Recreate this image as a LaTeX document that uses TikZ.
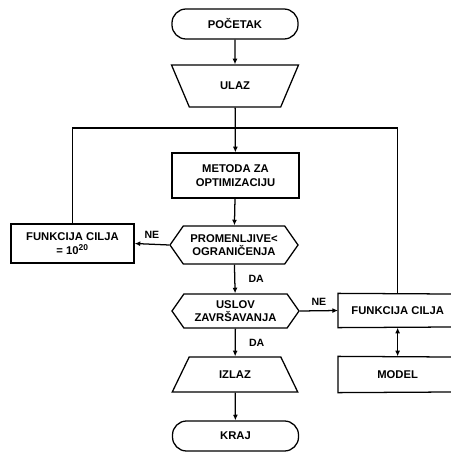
\documentclass[tikz,border=0pt]{standalone}
\usepackage{fontspec}
\setmainfont{Liberation Sans}
\usetikzlibrary{arrows.meta,shapes.geometric,shapes.symbols}

\begin{document}
\begin{tikzpicture}[x=0.025cm,y=-0.025cm,line width=0.9pt,
    every node/.style={font=\bfseries\fontsize{8}{9.5}\selectfont,align=center},
    box/.style={draw,rectangle,inner sep=1pt},
    edgebox/.style={rectangle,anchor=west,minimum width=2.95cm,inner sep=1pt},
    term/.style={draw,rectangle,rounded corners=10pt,minimum width=3.15cm,minimum height=0.75cm},
    io/.style={draw,trapezium,trapezium stretches=true,trapezium left angle=66,trapezium right angle=66},
    test/.style={draw,signal,signal to=west and east,signal pointer angle=110,inner sep=1pt},
    arr/.style={-{Latex[length=4pt,width=3.5pt]}},
    lbl/.style={font=\bfseries\fontsize{7.5}{9}\selectfont}]
  \useasboundingbox (0,0) rectangle (451,453);

  % Main chain
  \node[term] (start) at (235,24) {POČETAK};
  \node[io,shape border rotate=180,minimum width=3.175cm,minimum height=1.05cm] (input) at (235,86) {ULAZ};
  \node[box,minimum width=3.175cm,minimum height=1.125cm] (method) at (235.5,175.5) {METODA ZA\\OPTIMIZACIJU};
  \node[test,minimum width=3.2cm,minimum height=0.95cm] (bounds) at (234,245) {PROMENLJIVE<\\OGRANIČENJA};
  \node[test,minimum width=3.175cm,minimum height=0.85cm] (stoptest) at (235.5,311) {USLOV\\ZAVRŠAVANJA};
  \node[io,minimum width=3.15cm,minimum height=0.875cm] (output) at (235,374.5) {IZLAZ};
  \node[term] (stop) at (235.5,436) {KRAJ};

  % Side boxes (the right ones are open, they run off the edge)
  \node[box,minimum width=3.075cm,minimum height=0.975cm] (penalty) at (72.5,243.5) {FUNKCIJA CILJA\\= 10\textsuperscript{20}};
  \node[edgebox,minimum height=0.825cm] (objective) at (338,310.5) {FUNKCIJA CILJA};
  \node[edgebox,minimum height=0.875cm] (model) at (338,374.5) {MODEL};
  \draw (451,294) -- (objective.north west) -- (objective.south west) -- (451,327);
  \draw (451,357) -- (model.north west) -- (model.south west) -- (451,392);

  % Loop back into the method
  \coordinate (loop) at (235,128);
  \draw (penalty.north) |- (loop) -| (objective.north);

  \draw[arr] (start) -- (input);
  \draw[arr] (input) -- (method);
  \draw[arr] (method) -- (bounds);
  \draw[arr] (bounds) -- node[lbl,right=6pt] {DA} (stoptest);
  \draw[arr] (bounds.west) -- node[lbl,above] {NE} (penalty.east);
  \draw[arr] (stoptest.east) -- node[lbl,above] {NE} (objective.west);
  \draw[arr] (stoptest) -- node[lbl,right=6pt] {DA} (output);
  \draw[arr] (output) -- (stop);
  \draw[{Latex[length=4pt,width=3.5pt]}-{Latex[length=4pt,width=3.5pt]}] (objective) -- (model);
\end{tikzpicture}
\end{document}
